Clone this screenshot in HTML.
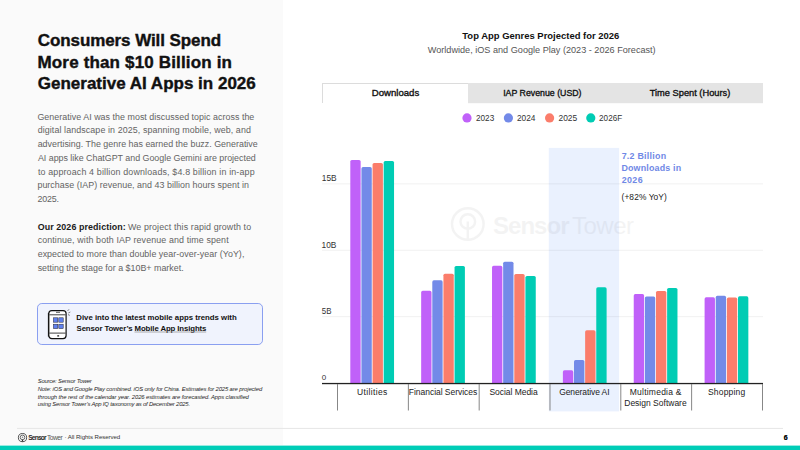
<!DOCTYPE html>
<html><head><meta charset="utf-8">
<style>
*{margin:0;padding:0;box-sizing:border-box}
html,body{width:800px;height:450px;overflow:hidden;background:#fff}
body{position:relative;font-family:"Liberation Sans",sans-serif}
svg text{font-family:"Liberation Sans",sans-serif}
.a{position:absolute}
</style></head><body>
<svg class="a" style="left:0;top:0" width="800" height="450" viewBox="0 0 800 450">
<rect x="0" y="0" width="283" height="450" fill="#fafafa"/>
<text x="37.75" y="46.30" font-size="17" font-weight="700" fill="#111" textLength="183.35" lengthAdjust="spacing" stroke="#111" stroke-width="0.4">Consumers Will Spend</text>
<text x="37.50" y="67.90" font-size="17" font-weight="700" fill="#111" textLength="194.45" lengthAdjust="spacing" stroke="#111" stroke-width="0.4">More than $10 Billion in</text>
<text x="37.75" y="88.60" font-size="17" font-weight="700" fill="#111" textLength="218.05" lengthAdjust="spacing" stroke="#111" stroke-width="0.4">Generative AI Apps in 2026</text>
<text x="37.40" y="119.60" font-size="8.9" fill="#636363" textLength="216.90" lengthAdjust="spacing">Generative AI was the most discussed topic across the</text>
<text x="37.65" y="133.35" font-size="8.9" fill="#636363" textLength="213.20" lengthAdjust="spacing">digital landscape in 2025, spanning mobile, web, and</text>
<text x="37.65" y="147.10" font-size="8.9" fill="#636363" textLength="220.10" lengthAdjust="spacing">advertising. The genre has earned the buzz. Generative</text>
<text x="37.90" y="160.85" font-size="8.9" fill="#636363" textLength="217.85" lengthAdjust="spacing">AI apps like ChatGPT and Google Gemini are projected</text>
<text x="37.90" y="174.60" font-size="8.9" fill="#636363" textLength="216.70" lengthAdjust="spacing">to approach 4 billion downloads, $4.8 billion in in-app</text>
<text x="37.40" y="188.35" font-size="8.9" fill="#636363" textLength="211.50" lengthAdjust="spacing">purchase (IAP) revenue, and 43 billion hours spent in</text>
<text x="37.40" y="202.10" font-size="8.9" fill="#636363" textLength="21.55" lengthAdjust="spacing">2025.</text>
<text x="37.65" y="229.60" font-size="8.9" font-weight="700" fill="#1a1a1a" textLength="88.15" lengthAdjust="spacing">Our 2026 prediction:</text>
<text x="128.00" y="229.60" font-size="8.9" fill="#636363" textLength="123.10" lengthAdjust="spacing">We project this rapid growth to</text>
<text x="37.65" y="243.35" font-size="8.9" fill="#636363" textLength="190.95" lengthAdjust="spacing">continue, with both IAP revenue and time spent</text>
<text x="37.65" y="257.10" font-size="8.9" fill="#636363" textLength="206.70" lengthAdjust="spacing">expected to more than double year-over-year (YoY),</text>
<text x="37.65" y="270.85" font-size="8.9" fill="#636363" textLength="146.00" lengthAdjust="spacing">setting the stage for a $10B+ market.</text>
<text x="783.65" y="439.90" font-size="7" font-weight="700" fill="#111">6</text>
<rect x="37.5" y="303.5" width="225" height="41" rx="4.3" fill="#f0f3fd" stroke="#8a9ff0" stroke-width="1"/>
<g transform="translate(44,306)">
  <rect x="4.8" y="4.6" width="17.3" height="28" rx="3" fill="#fff" stroke="#111" stroke-width="1.2"/>
  <line x1="4.4" y1="7" x2="4.4" y2="30.5" stroke="#111" stroke-width="1"/>
  <line x1="5.4" y1="8.8" x2="21.5" y2="8.8" stroke="#111" stroke-width="0.8"/>
  <line x1="5.4" y1="27.1" x2="21.5" y2="27.1" stroke="#111" stroke-width="0.8"/>
  <line x1="12" y1="6.3" x2="16" y2="6.3" stroke="#111" stroke-width="0.7"/>
  <rect x="13.2" y="29.3" width="2" height="1.3" rx="0.5" fill="#111"/>
  <rect x="9.4" y="11.8" width="4.4" height="4.4" fill="#5f80ee" stroke="#223" stroke-width="0.5"/>
  <rect x="14.8" y="11.8" width="4.4" height="4.4" fill="#5f80ee" stroke="#223" stroke-width="0.5"/>
  <rect x="9.4" y="18.2" width="4.4" height="4.4" fill="#5f80ee" stroke="#223" stroke-width="0.5"/>
  <rect x="14.8" y="18.2" width="4.4" height="4.4" fill="#5f80ee" stroke="#223" stroke-width="0.5"/>
  <line x1="23.5" y1="5" x2="25" y2="3.3" stroke="#333" stroke-width="0.6"/>
  <line x1="24.3" y1="7" x2="26.3" y2="6" stroke="#333" stroke-width="0.6"/>
  <line x1="24" y1="8.6" x2="25.8" y2="9.4" stroke="#333" stroke-width="0.6"/>
</g>
<text x="76.30" y="319.60" font-size="7.8" font-weight="700" fill="#111" textLength="160.35" lengthAdjust="spacing">Dive into the latest mobile apps trends with</text>
<text x="76.55" y="331.00" font-size="7.8" font-weight="700" fill="#111" textLength="129.85" lengthAdjust="spacing">Sensor Tower’s Mobile App Insights</text>
<rect x="134.5" y="331.6" width="71.7" height="0.8" fill="#999"/>
<text x="37.75" y="383.40" font-size="5.9" font-style="italic" fill="#262626" textLength="53.95" lengthAdjust="spacing">Source: Sensor Tower</text>
<text x="37.75" y="391.00" font-size="5.9" font-style="italic" fill="#262626" textLength="224.45" lengthAdjust="spacing">Note: iOS and Google Play combined. iOS only for China. Estimates for 2025 are projected</text>
<text x="37.75" y="398.60" font-size="5.9" font-style="italic" fill="#262626" textLength="211.15" lengthAdjust="spacing">through the rest of the calendar year. 2026 estimates are forecasted. Apps classified</text>
<text x="37.75" y="406.20" font-size="5.9" font-style="italic" fill="#262626" textLength="152.30" lengthAdjust="spacing">using Sensor Tower’s App IQ taxonomy as of December 2025.</text>
<rect x="17" y="427.9" width="766" height="1" fill="#e6e6e6"/>
<rect x="0" y="445" width="283" height="1" fill="#fff"/>
<rect x="0" y="445.6" width="800" height="4.4" fill="#00cdb7"/>
<g transform="translate(17,432)">
  <circle cx="5.5" cy="5.6" r="4.1" fill="none" stroke="#333" stroke-width="0.85"/>
  <circle cx="5.5" cy="5.4" r="2.3" fill="none" stroke="#444" stroke-width="0.8"/>
  <circle cx="5.5" cy="5.3" r="0.8" fill="#888"/>
  <line x1="5.5" y1="7.5" x2="5.5" y2="9.6" stroke="#333" stroke-width="1.2"/>
</g>
<text x="28.25" y="439.90" font-size="6.6" font-weight="700" fill="#2a2a2a" textLength="18.40" lengthAdjust="spacing">Sensor</text>
<text x="46.90" y="439.90" font-size="6.6" fill="#555" textLength="15.80" lengthAdjust="spacing">Tower</text>
<text x="64.45" y="439.40" font-size="6.1" fill="#333" textLength="55.80" lengthAdjust="spacing">· All Rights Reserved</text>
<text x="783.65" y="439.90" font-size="7" font-weight="700" fill="#111">6</text>
<rect x="322" y="83" width="441" height="20.2" fill="#e4e4e4"/>
<rect x="322" y="83" width="146" height="21" fill="#fff"/>
<rect x="322" y="83" width="146" height="1" fill="#dcdcdc"/>
<rect x="322" y="83" width="1" height="20" fill="#dcdcdc"/>
<rect x="548.8" y="147.9" width="70.3" height="263.5" fill="#eaf1fe"/>
<rect x="322" y="183.30" width="441" height="1.1" fill="#000" fill-opacity="0.055"/>
<rect x="322" y="249.75" width="441" height="1.1" fill="#000" fill-opacity="0.055"/>
<rect x="322" y="316.10" width="441" height="1.1" fill="#000" fill-opacity="0.055"/>
<g opacity="0.045"><circle cx="467.8" cy="224" r="15.8" fill="none" stroke="#000" stroke-width="2.4"/><circle cx="467.8" cy="221.5" r="7.3" fill="none" stroke="#000" stroke-width="2.4"/><line x1="467.8" y1="221.5" x2="467.8" y2="240" stroke="#000" stroke-width="2.4"/><text x="493.00" y="233.80" font-size="24" font-weight="700" fill="#000" textLength="76.50" lengthAdjust="spacing">Sensor</text><text x="572.00" y="233.80" font-size="24" fill="#000" textLength="62.00" lengthAdjust="spacing">Tower</text></g>
<path d="M350.30,383.0 V161.60 Q350.30,160.00 351.90,160.00 H359.05 Q360.65,160.00 360.65,161.60 V383.0 Z" fill="#c061f9"/>
<path d="M361.43,383.0 V168.70 Q361.43,167.10 363.03,167.10 H370.18 Q371.78,167.10 371.78,168.70 V383.0 Z" fill="#738ae8"/>
<path d="M372.56,383.0 V164.50 Q372.56,162.90 374.16,162.90 H381.31 Q382.91,162.90 382.91,164.50 V383.0 Z" fill="#fb7d6b"/>
<path d="M383.69,383.0 V162.60 Q383.69,161.00 385.29,161.00 H392.44 Q394.04,161.00 394.04,162.60 V383.0 Z" fill="#00ccb4"/>
<path d="M421.16,383.0 V292.40 Q421.16,290.80 422.76,290.80 H429.91 Q431.51,290.80 431.51,292.40 V383.0 Z" fill="#c061f9"/>
<path d="M432.29,383.0 V281.90 Q432.29,280.30 433.89,280.30 H441.04 Q442.64,280.30 442.64,281.90 V383.0 Z" fill="#738ae8"/>
<path d="M443.42,383.0 V275.30 Q443.42,273.70 445.02,273.70 H452.17 Q453.77,273.70 453.77,275.30 V383.0 Z" fill="#fb7d6b"/>
<path d="M454.55,383.0 V267.50 Q454.55,265.90 456.15,265.90 H463.30 Q464.90,265.90 464.90,267.50 V383.0 Z" fill="#00ccb4"/>
<path d="M492.02,383.0 V267.40 Q492.02,265.80 493.62,265.80 H500.77 Q502.37,265.80 502.37,267.40 V383.0 Z" fill="#c061f9"/>
<path d="M503.15,383.0 V263.30 Q503.15,261.70 504.75,261.70 H511.90 Q513.50,261.70 513.50,263.30 V383.0 Z" fill="#738ae8"/>
<path d="M514.28,383.0 V275.50 Q514.28,273.90 515.88,273.90 H523.03 Q524.63,273.90 524.63,275.50 V383.0 Z" fill="#fb7d6b"/>
<path d="M525.41,383.0 V277.50 Q525.41,275.90 527.01,275.90 H534.16 Q535.76,275.90 535.76,277.50 V383.0 Z" fill="#00ccb4"/>
<path d="M562.88,383.0 V371.90 Q562.88,370.30 564.48,370.30 H571.63 Q573.23,370.30 573.23,371.90 V383.0 Z" fill="#c061f9"/>
<path d="M574.01,383.0 V361.50 Q574.01,359.90 575.61,359.90 H582.76 Q584.36,359.90 584.36,361.50 V383.0 Z" fill="#738ae8"/>
<path d="M585.14,383.0 V331.90 Q585.14,330.30 586.74,330.30 H593.89 Q595.49,330.30 595.49,331.90 V383.0 Z" fill="#fb7d6b"/>
<path d="M596.27,383.0 V288.90 Q596.27,287.30 597.87,287.30 H605.02 Q606.62,287.30 606.62,288.90 V383.0 Z" fill="#00ccb4"/>
<path d="M633.74,383.0 V295.70 Q633.74,294.10 635.34,294.10 H642.49 Q644.09,294.10 644.09,295.70 V383.0 Z" fill="#c061f9"/>
<path d="M644.87,383.0 V298.00 Q644.87,296.40 646.47,296.40 H653.62 Q655.22,296.40 655.22,298.00 V383.0 Z" fill="#738ae8"/>
<path d="M656.00,383.0 V292.50 Q656.00,290.90 657.60,290.90 H664.75 Q666.35,290.90 666.35,292.50 V383.0 Z" fill="#fb7d6b"/>
<path d="M667.13,383.0 V289.60 Q667.13,288.00 668.73,288.00 H675.88 Q677.48,288.00 677.48,289.60 V383.0 Z" fill="#00ccb4"/>
<path d="M704.60,383.0 V298.90 Q704.60,297.30 706.20,297.30 H713.35 Q714.95,297.30 714.95,298.90 V383.0 Z" fill="#c061f9"/>
<path d="M715.73,383.0 V297.40 Q715.73,295.80 717.33,295.80 H724.48 Q726.08,295.80 726.08,297.40 V383.0 Z" fill="#738ae8"/>
<path d="M726.86,383.0 V299.20 Q726.86,297.60 728.46,297.60 H735.61 Q737.21,297.60 737.21,299.20 V383.0 Z" fill="#fb7d6b"/>
<path d="M737.99,383.0 V297.90 Q737.99,296.30 739.59,296.30 H746.74 Q748.34,296.30 748.34,297.90 V383.0 Z" fill="#00ccb4"/>
<rect x="322" y="382.9" width="441" height="1.3" fill="#222"/>
<rect x="337.05" y="384" width="0.9" height="26.5" fill="#7a7a7a"/>
<rect x="407.88" y="384" width="0.9" height="26.5" fill="#7a7a7a"/>
<rect x="478.71" y="384" width="0.9" height="26.5" fill="#7a7a7a"/>
<rect x="549.54" y="384" width="0.9" height="26.5" fill="#7a7a7a"/>
<rect x="620.37" y="384" width="0.9" height="26.5" fill="#7a7a7a"/>
<rect x="691.20" y="384" width="0.9" height="26.5" fill="#7a7a7a"/>
<rect x="762.03" y="384" width="0.9" height="26.5" fill="#7a7a7a"/>
<text x="462.30" y="39.40" font-size="9.5" font-weight="700" fill="#111" textLength="157.00" lengthAdjust="spacingAndGlyphs">Top App Genres Projected for 2026</text>
<text x="427.80" y="52.60" font-size="9.4" fill="#555" textLength="227.85" lengthAdjust="spacingAndGlyphs">Worldwide, iOS and Google Play (2023 - 2026 Forecast)</text>
<text x="371.75" y="96.40" font-size="9.3" fill="#111" textLength="47.50" lengthAdjust="spacingAndGlyphs" stroke="#111" stroke-width="0.35">Downloads</text>
<text x="503.15" y="96.30" font-size="9.3" fill="#111" textLength="78.40" lengthAdjust="spacingAndGlyphs" stroke="#111" stroke-width="0.35">IAP Revenue (USD)</text>
<text x="649.75" y="96.30" font-size="9.3" fill="#111" textLength="80.50" lengthAdjust="spacingAndGlyphs" stroke="#111" stroke-width="0.35">Time Spent (Hours)</text>
<text x="476.00" y="120.80" font-size="8.6" fill="#333" textLength="18.25" lengthAdjust="spacingAndGlyphs">2023</text>
<text x="517.00" y="120.80" font-size="8.6" fill="#333" textLength="18.45" lengthAdjust="spacingAndGlyphs">2024</text>
<text x="558.50" y="120.80" font-size="8.6" fill="#333" textLength="18.70" lengthAdjust="spacingAndGlyphs">2025</text>
<text x="599.10" y="120.80" font-size="8.6" fill="#333" textLength="23.05" lengthAdjust="spacingAndGlyphs">2026F</text>
<text x="321.80" y="180.90" font-size="8.4" fill="#333" textLength="14.85" lengthAdjust="spacingAndGlyphs">15B</text>
<text x="321.60" y="247.60" font-size="8.4" fill="#333" textLength="14.85" lengthAdjust="spacingAndGlyphs">10B</text>
<text x="321.75" y="313.80" font-size="8.4" fill="#333" textLength="9.65" lengthAdjust="spacingAndGlyphs">5B</text>
<text x="321.85" y="380.20" font-size="8.0" fill="#333">0</text>
<text x="357.05" y="394.60" font-size="8.5" fill="#222" textLength="30.15" lengthAdjust="spacing">Utilities</text>
<text x="408.85" y="394.80" font-size="8.5" fill="#222" textLength="68.35" lengthAdjust="spacing">Financial Services</text>
<text x="489.50" y="394.80" font-size="8.5" fill="#222" textLength="48.15" lengthAdjust="spacing">Social Media</text>
<text x="559.20" y="394.50" font-size="8.5" fill="#222" textLength="50.35" lengthAdjust="spacing">Generative AI</text>
<text x="629.75" y="394.50" font-size="8.5" fill="#222" textLength="51.70" lengthAdjust="spacing">Multimedia &amp;</text>
<text x="624.25" y="405.80" font-size="8.5" fill="#222" textLength="62.45" lengthAdjust="spacing">Design Software</text>
<text x="707.90" y="394.60" font-size="8.5" fill="#222" textLength="37.35" lengthAdjust="spacing">Shopping</text>
<text x="621.65" y="159.30" font-size="8.9" font-weight="700" fill="#6f88e6" textLength="44.40" lengthAdjust="spacing">7.2 Billion</text>
<text x="621.40" y="171.40" font-size="8.9" font-weight="700" fill="#6f88e6" textLength="59.70" lengthAdjust="spacing">Downloads in</text>
<text x="621.65" y="183.40" font-size="8.9" font-weight="700" fill="#6f88e6" textLength="21.00" lengthAdjust="spacing">2026</text>
<text x="621.50" y="199.50" font-size="8.4" fill="#222" textLength="45.35" lengthAdjust="spacing">(+82% YoY)</text>
<circle cx="467" cy="117.9" r="4.6" fill="#c061f9"/>
<circle cx="508.4" cy="117.9" r="4.6" fill="#738ae8"/>
<circle cx="549.6" cy="117.9" r="4.6" fill="#fb7d6b"/>
<circle cx="590.8" cy="117.9" r="4.6" fill="#00ccb4"/>
</svg>
</body></html>
